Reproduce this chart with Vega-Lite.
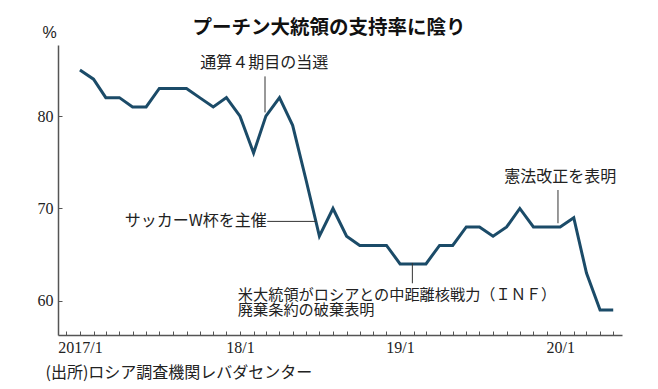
{
  "$schema": "https://vega.github.io/schema/vega-lite/v6.json",
  "width": 564,
  "height": 290,
  "autosize": {"type": "none"},
  "padding": {"left": 58, "top": 45, "right": 36, "bottom": 54},
  "background": "white",
  "title": {"text": "プーチン大統領の支持率に陰り", "anchor": "middle", "frame": "group", "dx": -11, "dy": 26, "offset": 12, "fontSize": 19.5, "fontWeight": "bold", "font": "Noto Sans CJK JP", "color": "#111"},
  "datasets": {
    "main": [
      {"date": "2017-01-01", "value": 85}, {"date": "2017-02-01", "value": 84}, {"date": "2017-03-01", "value": 82},
      {"date": "2017-04-01", "value": 82}, {"date": "2017-05-01", "value": 81}, {"date": "2017-06-01", "value": 81},
      {"date": "2017-07-01", "value": 83}, {"date": "2017-08-01", "value": 83}, {"date": "2017-09-01", "value": 83},
      {"date": "2017-10-01", "value": 82}, {"date": "2017-11-01", "value": 81}, {"date": "2017-12-01", "value": 82},
      {"date": "2018-01-01", "value": 80}, {"date": "2018-02-01", "value": 76}, {"date": "2018-03-01", "value": 80},
      {"date": "2018-04-01", "value": 82}, {"date": "2018-05-01", "value": 79}, {"date": "2018-06-01", "value": 73},
      {"date": "2018-07-01", "value": 67}, {"date": "2018-08-01", "value": 70}, {"date": "2018-09-01", "value": 67},
      {"date": "2018-10-01", "value": 66}, {"date": "2018-11-01", "value": 66}, {"date": "2018-12-01", "value": 66},
      {"date": "2019-01-01", "value": 64}, {"date": "2019-02-01", "value": 64}, {"date": "2019-03-01", "value": 64},
      {"date": "2019-04-01", "value": 66}, {"date": "2019-05-01", "value": 66}, {"date": "2019-06-01", "value": 68},
      {"date": "2019-07-01", "value": 68}, {"date": "2019-08-01", "value": 67}, {"date": "2019-09-01", "value": 68},
      {"date": "2019-10-01", "value": 70}, {"date": "2019-11-01", "value": 68}, {"date": "2019-12-01", "value": 68},
      {"date": "2020-01-01", "value": 68}, {"date": "2020-02-01", "value": 69}, {"date": "2020-03-01", "value": 63},
      {"date": "2020-04-01", "value": 59}, {"date": "2020-05-01", "value": 59}
    ],
    "leaders": [
      {"date": "2018-02-27", "date2": "2018-02-27", "value": 80.4, "value2": 84.3},
      {"date": "2018-03-04", "date2": "2018-06-24", "value": 68.6, "value2": 68.6},
      {"date": "2019-01-29", "date2": "2019-01-29", "value": 64.1, "value2": 61.9},
      {"date": "2019-12-27", "date2": "2019-12-27", "value": 68.4, "value2": 72.0}
    ],
    "notesCenter": [
      {"date": "2018-02-25", "value": 85.8, "label": "通算４期目の当選"},
      {"date": "2020-01-01", "value": 73.4, "label": "憲法改正を表明"}
    ],
    "notesRight": [
      {"date": "2018-03-03", "value": 68.6, "label": "サッカーW杯を主催"}
    ],
    "notesLeft": [
      {"date": "2017-12-27", "value": 60.6, "label": "米大統領がロシアとの中距離核戦力（ＩＮＦ）\n廃棄条約の破棄表明"}
    ]
  },
  "layer": [
    {
      "data": {"name": "main"},
      "mark": {"type": "line", "color": "#1b4b68", "strokeWidth": 3, "strokeJoin": "miter"},
      "encoding": {
        "x": {
          "field": "date", "type": "temporal",
          "scale": {"type": "utc", "domain": [{"year": 2016, "month": 11, "date": 12, "utc": true}, {"year": 2020, "month": 5, "date": 21, "utc": true}]},
          "axis": {
            "title": "(出所)ロシア調査機関レバダセンター",
            "titleAnchor": "start", "titleAlign": "left", "titleX": -13, "titleY": 37, "titleBaseline": "middle",
            "titleFontSize": 16, "titleFontWeight": "normal", "titleColor": "#222", "titleFont": "Noto Sans CJK JP",
            "tickCount": {"interval": "month", "step": 1},
            "labelExpr": "utcmonth(datum.value)==0 ? (utcyear(datum.value)==2017 ? '2017/1' : utcFormat(datum.value,'%y') + '/1') : ''",
            "labelFont": "Liberation Sans Narrow", "labelFontSize": 16, "labelColor": "#222", "labelPadding": 8,
            "labelFlush": false, "labelOverlap": false,
            "tickSize": -4, "tickColor": "#555", "tickWidth": 1,
            "domainColor": "#555", "domainWidth": 1.5, "grid": false
          }
        },
        "y": {
          "field": "value", "type": "quantitative",
          "scale": {"domain": [56.3, 87.7], "nice": false, "zero": false},
          "axis": {
            "title": "%", "titleAngle": 0, "titleX": -9, "titleY": -13, "titleAlign": "center", "titleBaseline": "middle",
            "titleFontSize": 16, "titleFontWeight": "normal", "titleColor": "#222", "titleFont": "Liberation Sans",
            "values": [60, 70, 80],
            "labelFont": "Liberation Sans Narrow", "labelFontSize": 16, "labelColor": "#222", "labelPadding": 9,
            "tickSize": -4, "tickColor": "#555", "tickWidth": 1,
            "domainColor": "#555", "domainWidth": 1.5, "grid": false
          }
        }
      }
    },
    {
      "data": {"name": "leaders"},
      "mark": {"type": "rule", "color": "#333", "strokeWidth": 1},
      "encoding": {
        "x": {"field": "date", "type": "temporal"},
        "x2": {"field": "date2"},
        "y": {"field": "value", "type": "quantitative"},
        "y2": {"field": "value2"}
      }
    },
    {
      "data": {"name": "notesCenter"},
      "mark": {"type": "text", "align": "center", "baseline": "middle", "fontSize": 16, "font": "Noto Sans CJK JP", "color": "#222"},
      "encoding": {
        "x": {"field": "date", "type": "temporal"},
        "y": {"field": "value", "type": "quantitative"},
        "text": {"field": "label"}
      }
    },
    {
      "data": {"name": "notesRight"},
      "mark": {"type": "text", "align": "right", "baseline": "middle", "fontSize": 16, "font": "Noto Sans CJK JP", "color": "#222"},
      "encoding": {
        "x": {"field": "date", "type": "temporal"},
        "y": {"field": "value", "type": "quantitative"},
        "text": {"field": "label"}
      }
    },
    {
      "data": {"name": "notesLeft"},
      "mark": {"type": "text", "align": "left", "baseline": "middle", "fontSize": 15.2, "lineHeight": 15, "lineBreak": "\n", "font": "Noto Sans CJK JP", "color": "#222"},
      "encoding": {
        "x": {"field": "date", "type": "temporal"},
        "y": {"field": "value", "type": "quantitative"},
        "text": {"field": "label"}
      }
    }
  ],
  "config": {"view": {"stroke": null}, "font": "Noto Sans CJK JP"}
}
